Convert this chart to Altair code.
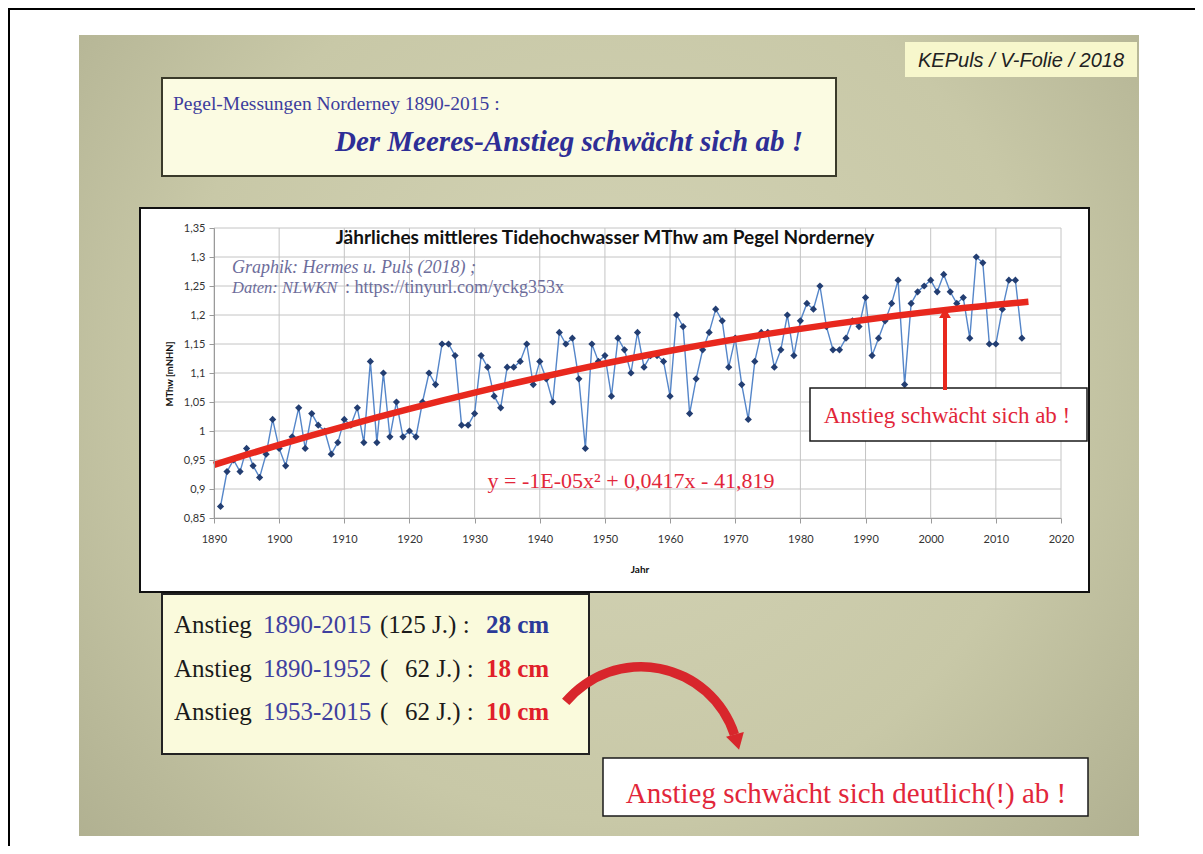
import altair as alt
import pandas as pd

# ---------------- data ----------------
years = list(range(1891, 2015))
mthw = [
    0.87, 0.93, 0.95, 0.93, 0.97, 0.94, 0.92, 0.96, 1.02,           # 1891-1899
    0.97, 0.94, 0.99, 1.04, 0.97, 1.03, 1.01, 1.00, 0.96, 0.98,     # 1900-1909
    1.02, 1.01, 1.04, 0.98, 1.12, 0.98, 1.10, 0.99, 1.05, 0.99,     # 1910-1919
    1.00, 0.99, 1.05, 1.10, 1.08, 1.15, 1.15, 1.13, 1.01, 1.01,     # 1920-1929
    1.03, 1.13, 1.11, 1.06, 1.04, 1.11, 1.11, 1.12, 1.15, 1.08,     # 1930-1939
    1.12, 1.09, 1.05, 1.17, 1.15, 1.16, 1.09, 0.97, 1.15, 1.12,     # 1940-1949
    1.13, 1.06, 1.16, 1.14, 1.10, 1.17, 1.11, 1.13, 1.13, 1.12,     # 1950-1959
    1.06, 1.20, 1.18, 1.03, 1.09, 1.14, 1.17, 1.21, 1.19, 1.11,     # 1960-1969
    1.16, 1.08, 1.02, 1.12, 1.17, 1.17, 1.11, 1.14, 1.20, 1.13,     # 1970-1979
    1.19, 1.22, 1.21, 1.25, 1.18, 1.14, 1.14, 1.16, 1.19, 1.18,     # 1980-1989
    1.23, 1.13, 1.16, 1.19, 1.22, 1.26, 1.08, 1.22, 1.24, 1.25,     # 1990-1999
    1.26, 1.24, 1.27, 1.24, 1.22, 1.23, 1.16, 1.30, 1.29, 1.15,     # 2000-2009
    1.15, 1.21, 1.26, 1.26, 1.16,                                   # 2010-2014
]
x_ticks = list(range(1890, 2021, 10))
y_ticks = [0.85, 0.9, 0.95, 1.0, 1.05, 1.1, 1.15, 1.2, 1.25, 1.3, 1.35]
trend_extent = [1890, 2015]

# ---------------- layout helpers ----------------
OX, OY = 214, 228          # plot origin in page pixels
W, H = 847, 290            # plot area size
df = pd.DataFrame({"year": years, "v": mthw})
one = pd.DataFrame({"k": [0]})

SERIF = "Liberation Serif"
SANS = "Liberation Sans"
CAL = "Lato"
RED = "#e2263a"
BLUE = "#3f3f9f"


def X(px):
    return px - OX


def Y(py):
    return py - OY


def rect(x1, y1, x2, y2, fill, stroke=None, sw=0):
    kw = dict(fill=fill)
    if stroke:
        kw.update(stroke=stroke, strokeWidth=sw)
    return alt.Chart(one).mark_rect(**kw).encode(
        x=alt.value(X(x1)), x2=alt.value(X(x2)),
        y=alt.value(Y(y1)), y2=alt.value(Y(y2)))


def txt(s, x, y, size, color, font=SERIF, align="left", weight="normal",
        style="normal", baseline="alphabetic", angle=0):
    return alt.Chart(one).mark_text(
        text=s, fontSize=size, color=color, font=font, align=align,
        fontWeight=weight, fontStyle=style, baseline=baseline, angle=angle,
    ).encode(x=alt.value(X(x)), y=alt.value(Y(y)))


xscale = alt.Scale(domain=[1890, 2020], nice=False, zero=False)
yscale = alt.Scale(domain=[0.85, 1.35], nice=False, zero=False)

xaxis = alt.Axis(values=x_ticks, format="d", title=None, grid=False,
                 domainColor="#9a9a9a", tickColor="#9a9a9a", tickSize=5,
                 labelFont=CAL, labelFontSize=11, labelColor="#333333",
                 labelPadding=10, labelFlush=False, labelOverlap=False, zindex=1)
yaxis = alt.Axis(values=y_ticks, title=None, grid=False,
                 labelExpr="replace(format(datum.value, '.2~f'), '.', ',')",
                 domainColor="#9a9a9a", tickColor="#9a9a9a", tickSize=5,
                 labelFont=CAL, labelFontSize=11, labelColor="#333333",
                 labelPadding=4, labelOverlap=False, zindex=1)

XE = alt.X("year:Q", scale=xscale, axis=xaxis)
YE = alt.Y("v:Q", scale=yscale, axis=yaxis)

# ---------------- background / boxes ----------------
frame = rect(9, 9, 1240, 900, "#ffffff", "#000000", 2)
slide_grad = alt.RadialGradient(
    gradient="radial",
    stops=[alt.GradientStop(color="#d4d4b6", offset=0),
           alt.GradientStop(color="#c8c8a7", offset=0.55),
           alt.GradientStop(color="#a8a889", offset=1)],
    x1=0.5, y1=0.45, r1=0, x2=0.5, y2=0.45, r2=0.75)
slide = rect(79, 35, 1139, 836, slide_grad)
title_box = rect(162, 78, 836, 176, "#fbfbe2", "#3a3a2a", 2)
ke_box = rect(905, 42, 1137, 77, "#f7f7cc")
chart_box = rect(140, 208, 1089, 592, "#ffffff", "#111111", 2)

# ---------------- grid + data ----------------
ygrid = alt.Chart(pd.DataFrame({"v": y_ticks})).mark_rule(
    color="#c4c4c4", strokeWidth=1).encode(
    y=YE, x=alt.value(0), x2=alt.value(W))
xgrid = alt.Chart(pd.DataFrame({"year": x_ticks})).mark_rule(
    color="#c4c4c4", strokeWidth=1).encode(
    x=XE, y=alt.value(0), y2=alt.value(H))

line = alt.Chart(df).mark_line(color="#5586c9", strokeWidth=1.4).encode(x=XE, y=YE)
pts = alt.Chart(df).mark_point(shape="diamond", filled=True, size=52,
                               color="#233e72", opacity=1).encode(x=XE, y=YE)
trend = alt.Chart(df).transform_regression(
    "year", "v", method="poly", order=2, extent=trend_extent
).mark_line(color="#e8281e", strokeWidth=6.5).encode(x=XE, y=YE)

# ---------------- chart texts ----------------
chart_title = txt("Jährliches mittleres Tidehochwasser MThw am Pegel Norderney",
                  605, 244, 19, "#111111", font=CAL, align="center", weight="bold")
y_title = txt("MThw [mNHN]", 170, 374, 9.5, "#111111", font=CAL, align="center",
              weight="bold", baseline="middle", angle=270)
x_title = txt("Jahr", 640, 573, 10, "#111111", font=CAL, align="center", weight="bold")
graphik = txt("Graphik: Hermes u. Puls (2018) ;", 232, 273, 18, "#6d6d9b", style="italic")
daten1 = txt("Daten: NLWKN", 232, 293, 16.5, "#6d6d9b", style="italic")
daten2 = txt(": https://tinyurl.com/yckg353x", 345, 293, 18, "#6d6d9b")
equation = txt("y = -1E-05x\u00b2 + 0,0417x - 41,819", 631, 488, 22, RED, align="center")

# annotation "Anstieg schwächt sich ab !"
ann_box = rect(810, 388, 1087, 441, "#ffffff", "#1a1a1a", 1.5)
ann_txt = txt("Anstieg schwächt sich ab !", 947, 423, 23, RED, align="center")
arrow_up = alt.Chart(one).mark_rule(color="#e8281e", strokeWidth=4).encode(
    x=alt.value(X(945)), y=alt.value(Y(390)), y2=alt.value(Y(318)))
arrow_up_head = alt.Chart(one).mark_point(shape="triangle-up", filled=True, size=140,
                                          color="#e8281e", opacity=1).encode(
    x=alt.value(X(945)), y=alt.value(Y(313)))

# ---------------- slide texts ----------------
ke_txt = txt("KEPuls / V-Folie / 2018", 1021, 67, 20, "#222222", font=SANS,
             align="center", style="italic")
t1 = txt("Pegel-Messungen Norderney 1890-2015 :", 173, 110, 19.5, "#3d3d9d")
t2 = txt("Der Meeres-Anstieg schwächt sich ab !", 569, 151, 29, "#2e2e96",
         align="center", weight="bold", style="italic")

bl_box = rect(162, 594, 589, 754, "#fafadc", "#222222", 2)
rows = []
for yb, period, mid_a, mid_b, val, col in [
    (633, "1890-2015", "(125 J.) :", None, "28 cm", "#2b3a99"),
    (677, "1890-1952", "(", "62 J.) :", "18 cm", "#e0202a"),
    (720, "1953-2015", "(", "62 J.) :", "10 cm", "#e0202a"),
]:
    rows.append(txt("Anstieg", 174, yb, 25, "#1a1a1a"))
    rows.append(txt(period, 263, yb, 25, BLUE))
    rows.append(txt(mid_a, 380, yb, 25, "#1a1a1a"))
    if mid_b:
        rows.append(txt(mid_b, 405, yb, 25, "#1a1a1a"))
    rows.append(txt(val, 486, yb, 25, col, weight="bold"))

curve = alt.Chart(one).mark_arc(fill="#d8262c").encode(
    x=alt.value(X(641)), y=alt.value(Y(765)),
    theta=alt.value(5.41), theta2=alt.value(7.54),
    radius=alt.value(103), radius2=alt.value(93.5))
curve_head = alt.Chart(one).mark_point(shape="triangle-down", filled=True, size=340,
                                       angle=345, color="#d8262c", opacity=1).encode(
    x=alt.value(X(737)), y=alt.value(Y(742)))

br_box = rect(603, 758, 1088, 816, "#ffffff", "#1a1a1a", 1.5)
br_txt = txt("Anstieg schwächt sich deutlich(!) ab !", 846, 803, 29, RED, align="center")

layers = [frame, slide, title_box, ke_box, chart_box, xgrid, ygrid,
          line, pts, trend, chart_title, y_title, x_title, graphik, daten1, daten2,
          equation, ann_box, ann_txt, arrow_up, arrow_up_head, ke_txt, t1, t2,
          bl_box] + rows + [curve, curve_head, br_box, br_txt]

chart = alt.layer(*layers).properties(
    width=W, height=H,
    autosize=alt.AutoSizeParams(type="none"),
    padding={"left": OX - 8, "top": OY - 8, "right": 1195 - OX - W, "bottom": 846 - OY - H},
    background="#ffffff",
).configure_view(stroke=None)

chart.save("out.html", embed_options={"renderer": "svg", "actions": False})
